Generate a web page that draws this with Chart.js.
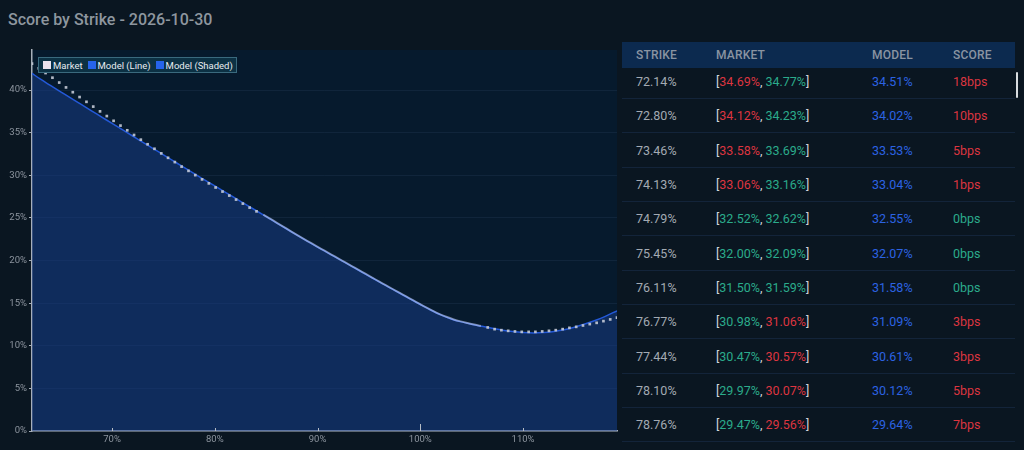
<!DOCTYPE html>
<html>
<head>
<meta charset="utf-8">
<script src="https://cdn.jsdelivr.net/npm/chart.js@4.4.1/dist/chart.umd.min.js"></script>
<style>
  html, body { margin:0; padding:0; }
  body { width:1024px; height:450px; overflow:hidden; background:#0a1621; font-family:Roboto, "Noto Sans", sans-serif; position:relative; }
  #title { position:absolute; left:8px; top:12px; font-size:16px; line-height:16px; font-weight:500; color:#8e969f; white-space:nowrap; }
  #chartWrap { position:absolute; left:0; top:40px; width:621px; height:410px; }
  #legend { position:absolute; left:38px; top:57px; height:16px; box-sizing:border-box; border:1px solid #3a6a7e; background:#0c3144; display:flex; align-items:center; padding:0 3px 0 4px; gap:5px; z-index:2; }
  #legend .item { display:flex; align-items:center; font-size:9.5px; color:#e8ecf0; white-space:nowrap; }
  #legend .sw { width:8px; height:8px; margin-right:2px; }
  #thead { position:absolute; left:622px; top:42px; width:393px; height:26px; background:#0c2a4f; }
  #tbody { position:absolute; left:622px; top:68px; width:393px; height:382px; overflow:hidden; }
  #tinner { margin-top:-3.3px; }
  .row { position:relative; height:34.35px; box-sizing:border-box; border-bottom:1px solid #13243a; }
  .cell { position:absolute; top:0; height:100%; display:flex; align-items:center; white-space:pre; }
  #thead .cell { font-size:12px; font-weight:500; color:#8a94a2; letter-spacing:0.2px; }
  .row .cell { font-size:12.5px; }
  #thumb { position:absolute; left:1016px; top:72px; width:2px; height:26px; background:#d8dce0; border-radius:1px; }
</style>
</head>
<body>
<div id="title">Score by Strike - 2026-10-30</div>
<div id="chartWrap"><canvas id="c"></canvas></div>
<div id="legend"></div>
<div id="thead"></div>
<div id="tbody"><div id="tinner"></div></div>
<div id="thumb"></div>
<script>
// ---------- chart data ----------
const marketStrikes = [62.21, 62.87, 63.53, 64.20, 64.86, 65.52, 66.18, 66.84, 67.51, 68.17, 68.83, 69.49, 70.15, 70.82, 71.48,
  72.14, 72.80, 73.46, 74.13, 74.79, 75.45, 76.11, 76.77, 77.44, 78.10, 78.76,
  79.42, 80.08, 80.75, 81.41, 82.07, 82.73, 83.39, 84.06,
  84.72, 85.38, 86.04, 86.70, 87.37, 88.03, 88.69, 89.35, 90.01, 90.68, 91.34, 92.00, 92.66, 93.32, 93.99, 94.65,
  95.31, 95.97, 96.63, 97.30, 97.96, 98.62, 99.28, 99.94, 100.61, 101.27, 101.93, 102.59, 103.25, 103.92, 104.58, 105.24, 105.90,
  106.56, 107.23, 107.89, 108.55, 109.21, 109.87, 110.54, 111.20, 111.86, 112.52, 113.18, 113.85, 114.51, 115.17, 115.83,
  116.49, 117.16, 117.82, 118.48, 119.14];
const marketMid = [43.10, 42.55, 42.00, 41.45, 40.88, 40.31, 39.75, 39.18, 38.62, 38.06, 37.50, 36.95, 36.39, 35.83, 35.28,
  34.73, 34.18, 33.64, 33.11, 32.57, 32.05, 31.55, 31.02, 30.52, 30.02, 29.52,
  29.05, 28.57, 28.09, 27.62, 27.15, 26.68, 26.21, 25.77,
  25.38, 24.91, 24.43, 23.95, 23.46, 22.99, 22.52, 22.06, 21.60, 21.15, 20.70, 20.25, 19.80, 19.35, 18.90, 18.45,
  18.00, 17.55, 17.11, 16.66, 16.22, 15.78, 15.35, 14.91, 14.48, 14.07, 13.69, 13.37, 13.09, 12.86, 12.67, 12.49, 12.33,
  12.15, 11.95, 11.83, 11.75, 11.68, 11.63, 11.63, 11.63, 11.68, 11.75, 11.83, 11.95, 12.10, 12.22, 12.38,
  12.54, 12.69, 12.89, 13.09, 13.30];
const modelStrikes = [62.21, 63, 64, 65, 66, 67, 68, 69, 70, 71, 72, 73, 74, 75, 76, 77, 78, 79, 80, 81, 82, 83, 84, 85, 86, 87, 88,
  89, 90, 91, 92, 93, 94, 95, 96, 97, 98, 99, 100, 101, 102, 103, 104, 105, 106, 107, 108, 109, 110, 111, 112, 113, 114, 115,
  116, 117, 118, 119.14];
const modelVols = [41.96, 41.30, 40.55, 39.80, 39.05, 38.31, 37.57, 36.83, 36.09, 35.35, 34.61, 33.87, 33.14, 32.40, 31.66, 30.92,
  30.19, 29.47, 28.75, 28.03, 27.31, 26.59, 25.87, 25.15, 24.43, 23.70, 22.98, 22.27, 21.58, 20.90, 20.22, 19.54, 18.86, 18.18,
  17.50, 16.83, 16.16, 15.50, 14.84, 14.20, 13.62, 13.15, 12.80, 12.52, 12.28, 12.05, 11.83, 11.66, 11.55, 11.50, 11.55, 11.68,
  11.88, 12.18, 12.55, 12.97, 13.45, 14.10];
const xTicks = [70, 80, 90, 100, 110];
const yTicks = [0, 5, 10, 15, 20, 25, 30, 35, 40];
const seriesLabels = ['Market', 'Model (Line)', 'Model (Shaded)'];

// ---------- table data ----------
const tableStrikes = [72.14, 72.80, 73.46, 74.13, 74.79, 75.45, 76.11, 76.77, 77.44, 78.10, 78.76];
const tableBid = [34.69, 34.12, 33.58, 33.06, 32.52, 32.00, 31.50, 30.98, 30.47, 29.97, 29.47];
const tableAsk = [34.77, 34.23, 33.69, 33.16, 32.62, 32.09, 31.59, 31.06, 30.57, 30.07, 29.56];
const tableModel = [34.51, 34.02, 33.53, 33.04, 32.55, 32.07, 31.58, 31.09, 30.61, 30.12, 29.64];
const tableScore = [18, 10, 5, 1, 0, 0, 0, 3, 3, 5, 7];
const tableHeaders = ['STRIKE', 'MARKET', 'MODEL', 'SCORE'];

// ---------- styles ----------
const RED = '#dc3540', GREEN = '#2bab8b', BLUE = '#2c63e3';
const LIQ_LO = 84.5, LIQ_HI = 106.2;
const inLiq = x => x >= LIQ_LO && x <= LIQ_HI;
const legendColors = ['#ebe3ee', '#2663ea', '#2663ea'];
const colLeft = [14, 94, 250, 331];

Chart.defaults.font.family = 'Roboto';
Chart.defaults.font.size = 9.5;
Chart.defaults.color = '#8c949e';

const pts = (xs, ys) => xs.map((x, i) => ({ x: x, y: ys[i] }));

const areaBg = {
  id: 'areaBg',
  beforeDraw(chart) {
    const a = chart.chartArea, ctx = chart.ctx;
    ctx.save();
    ctx.fillStyle = '#061a2d';
    ctx.fillRect(a.left, a.top, a.right - a.left, a.bottom - a.top);
    ctx.restore();
  }
};
const xTickMarks = {
  id: 'xTickMarks',
  afterDatasetsDraw(chart) {
    const sx = chart.scales.x, a = chart.chartArea, ctx = chart.ctx;
    ctx.save();
    ctx.strokeStyle = '#b5bcc6';
    ctx.lineWidth = 1;
    sx.ticks.forEach(t => {
      const px = Math.round(sx.getPixelForValue(t.value)) + 0.5;
      const len = t.value === 100 ? 7 : 3;
      ctx.beginPath();
      ctx.moveTo(px, a.bottom);
      ctx.lineTo(px, a.bottom - len);
      ctx.stroke();
    });
    ctx.restore();
  }
};

new Chart(document.getElementById('c'), {
  type: 'line',
  data: {
    datasets: [
      {
        label: seriesLabels[0],
        data: pts(marketStrikes, marketMid),
        showLine: true,
        borderWidth: 2,
        tension: 0.3,
        borderColor: 'rgba(205,215,240,0.55)',
        segment: {
          borderColor: ctx => (inLiq(ctx.p0.parsed.x) && inLiq(ctx.p1.parsed.x)) ? 'rgba(205,215,240,0.55)' : 'rgba(0,0,0,0)'
        },
        pointStyle: 'rect',
        pointRadius: ctx => (ctx.raw && inLiq(ctx.raw.x)) ? 0 : 1.9,
        pointBackgroundColor: 'rgba(196,202,214,0.9)',
        pointBorderWidth: 0,
        fill: false
      },
      {
        label: seriesLabels[1],
        data: pts(modelStrikes, modelVols),
        borderColor: '#2459d8',
        borderWidth: 1.5,
        pointRadius: 0,
        cubicInterpolationMode: 'monotone',
        fill: false
      },
      {
        label: seriesLabels[2],
        data: pts(modelStrikes, modelVols),
        borderWidth: 0,
        borderColor: 'rgba(0,0,0,0)',
        backgroundColor: 'rgba(23,62,140,0.5)',
        pointRadius: 0,
        cubicInterpolationMode: 'monotone',
        fill: 'origin'
      }
    ]
  },
  options: {
    responsive: true,
    maintainAspectRatio: false,
    animation: false,
    layout: { padding: { top: 10, left: 0, right: 0, bottom: 0 } },
    plugins: { legend: { display: false }, tooltip: { enabled: false } },
    scales: {
      x: {
        type: 'linear',
        min: marketStrikes[0],
        max: marketStrikes[marketStrikes.length - 1],
        afterBuildTicks: s => { s.ticks = xTicks.map(v => ({ value: v })); },
        afterFit: s => { s.height = 19; },
        ticks: { callback: v => v + '%', padding: 3, color: '#8c949e', maxRotation: 0 },
        grid: { drawOnChartArea: false, drawTicks: false },
        border: { display: true, color: '#a7afba', width: 1.5 }
      },
      y: {
        min: 0,
        max: 44.7,
        afterBuildTicks: s => { s.ticks = yTicks.map(v => ({ value: v })); },
        afterFit: s => { s.width = 32; },
        ticks: { callback: v => v + '%', padding: 2, color: '#8c949e' },
        grid: { color: 'rgba(110,140,190,0.10)', tickLength: 3, tickColor: '#a7afba' },
        border: { display: true, color: '#a7afba', width: 1.5 }
      }
    }
  },
  plugins: [areaBg, xTickMarks]
});

// ---------- legend ----------
const legend = document.getElementById('legend');
seriesLabels.forEach((lab, i) => {
  const it = document.createElement('div');
  it.className = 'item';
  const sw = document.createElement('div');
  sw.className = 'sw';
  sw.style.background = legendColors[i];
  it.appendChild(sw);
  it.appendChild(document.createTextNode(lab));
  legend.appendChild(it);
});

// ---------- table ----------
const thead = document.getElementById('thead');
tableHeaders.forEach((h, i) => {
  const c = document.createElement('div');
  c.className = 'cell';
  c.style.left = colLeft[i] + 'px';
  c.textContent = h;
  thead.appendChild(c);
});
const pct = v => v.toFixed(2) + '%';
const span = (txt, col) => '<span style="color:' + col + '">' + txt + '</span>';
const tinner = document.getElementById('tinner');
tableStrikes.forEach((k, i) => {
  const row = document.createElement('div');
  row.className = 'row';
  const m = tableModel[i];
  const bidCol = m < tableBid[i] ? RED : GREEN;
  const askCol = m > tableAsk[i] ? RED : GREEN;
  const cells = [
    span(pct(k), '#a3aab3'),
    span('[', '#d2d6db') + span(pct(tableBid[i]), bidCol) + span(', ', '#d2d6db') + span(pct(tableAsk[i]), askCol) + span(']', '#d2d6db'),
    span(pct(m), BLUE),
    span(tableScore[i] + 'bps', tableScore[i] > 0 ? RED : GREEN)
  ];
  cells.forEach((h, j) => {
    const c = document.createElement('div');
    c.className = 'cell';
    c.style.left = colLeft[j] + 'px';
    c.innerHTML = '<span>' + h + '</span>';
    row.appendChild(c);
  });
  tinner.appendChild(row);
});
</script>
</body>
</html>
